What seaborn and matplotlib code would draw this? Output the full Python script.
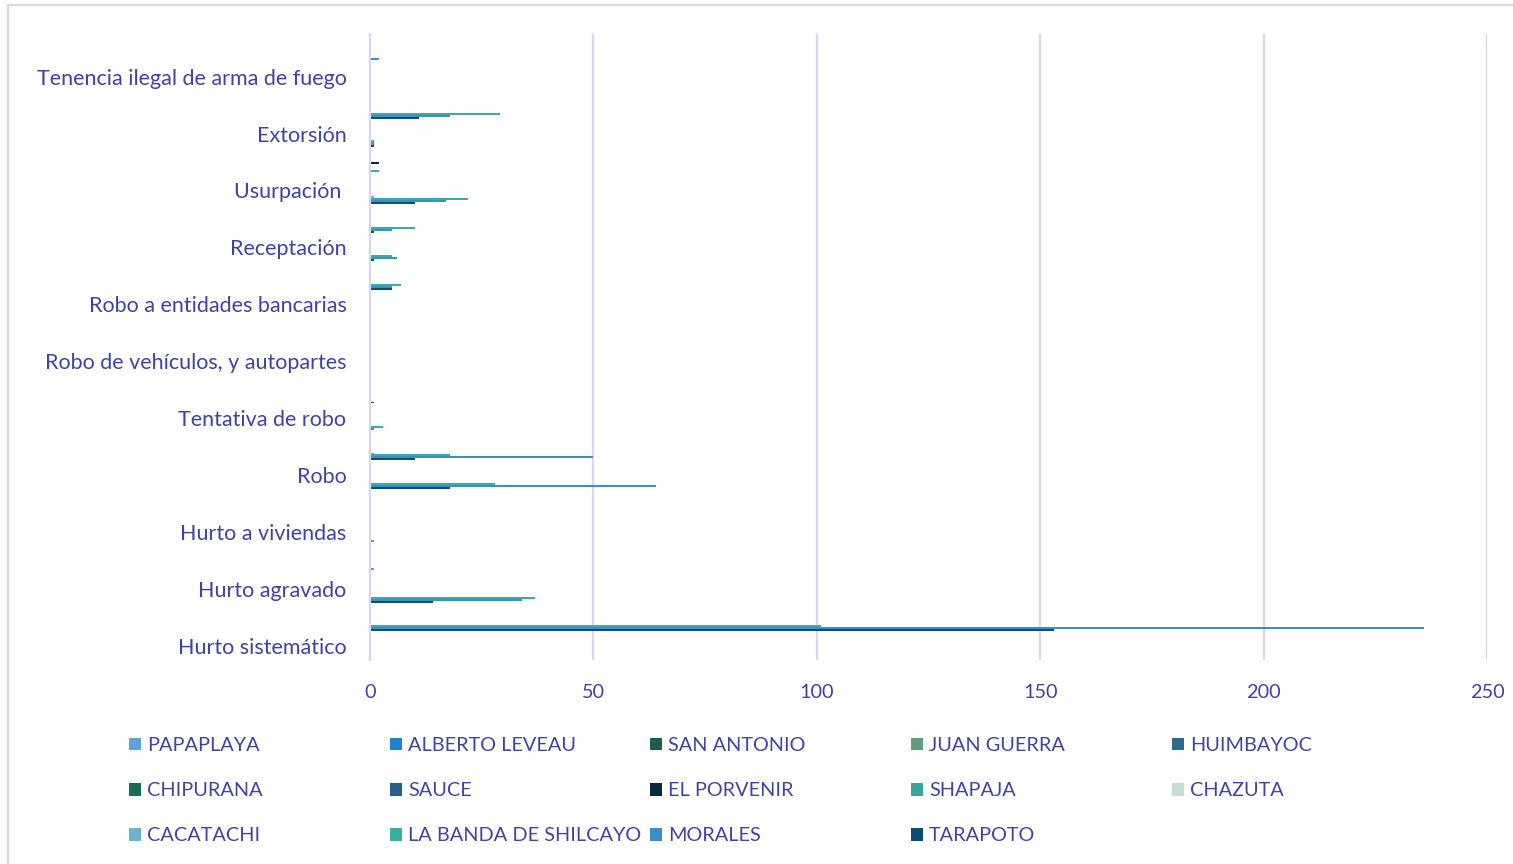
import matplotlib
matplotlib.use("Agg")
import matplotlib.pyplot as plt
import seaborn as sns
import pandas as pd
from matplotlib.patches import Patch
from matplotlib.lines import Line2D

# ---------------- data (top to bottom, 22 categories; Excel shows every other label) ----
categories = [
    "Categoría 22", "Tenencia ilegal de arma de fuego",
    "Categoría 20", "Extorsión",
    "Categoría 18", "Usurpación ",
    "Categoría 16", "Receptación",
    "Categoría 14", "Robo a entidades bancarias",
    "Categoría 12", "Robo de vehículos, y autopartes",
    "Categoría 10", "Tentativa de robo",
    "Categoría 8", "Robo",
    "Categoría 6", "Hurto a viviendas",
    "Categoría 4", "Hurto agravado",
    "Categoría 2", "Hurto sistemático",
]
shown_labels = categories[1::2]

series = ["PAPAPLAYA", "ALBERTO LEVEAU", "SAN ANTONIO", "JUAN GUERRA", "HUIMBAYOC",
          "CHIPURANA", "SAUCE", "EL PORVENIR", "SHAPAJA", "CHAZUTA",
          "CACATACHI", "LA BANDA DE SHILCAYO", "MORALES", "TARAPOTO"]

zeros = [0] * 22
papaplaya = list(zeros)
alberto_leveau = list(zeros)
san_antonio = list(zeros)
juan_guerra = list(zeros)
huimbayoc = list(zeros)
chipurana = list(zeros)
sauce = list(zeros)
el_porvenir = [0, 0, 0, 0, 2, 0, 0, 0, 0, 0, 0, 0, 0, 0, 0, 0, 0, 0, 0, 0, 0, 0]
shapaja = list(zeros)
chazuta = list(zeros)
cacatachi = [0, 0, 0, 1, 0, 1, 0, 0, 0, 0, 0, 0, 0, 0, 1, 0, 0, 0, 0, 0, 0, 0]
la_banda = [0, 0, 29, 1, 2, 22, 10, 5, 7, 0, 0, 0, 0, 3, 18, 28, 0, 1, 1, 37, 101, 0]
morales = [2, 0, 18, 1, 0, 17, 5, 6, 5, 0, 0, 0, 0, 1, 50, 64, 0, 0, 0, 34, 236, 0]
tarapoto = [0, 0, 11, 1, 0, 10, 1, 1, 5, 0, 0, 0, 1, 0, 10, 18, 0, 0, 0, 14, 153, 0]

values = [papaplaya, alberto_leveau, san_antonio, juan_guerra, huimbayoc,
          chipurana, sauce, el_porvenir, shapaja, chazuta,
          cacatachi, la_banda, morales, tarapoto]

x_ticks = [0, 50, 100, 150, 200, 250]

colors = ["#5BA3D9", "#1A86CC", "#1B5E4E", "#5E9E7E", "#2F6E88",
          "#1D6A56", "#2C5E8C", "#0C2A3E", "#36A89A", "#C4DFCF",
          "#6AB3CB", "#3AADA0", "#3A8ECF", "#0F4C73"]
palette = dict(zip(series, colors))

rows = []
for s, vals in zip(series, values):
    for c, v in zip(categories, vals):
        rows.append({"delito": c, "distrito": s, "valor": v})
df = pd.DataFrame(rows)

# ---------------- style ----------------
sns.set_theme(style="white")
plt.rcParams["font.family"] = ["Lato", "DejaVu Sans"]
TXT = "#4042A4"
GRID = "#D6D6F0"
FS = 14.3
FS_Y = 15.5

W, H = 1513, 864
fig = plt.figure(figsize=(W / 100, H / 100), dpi=100)
ax = fig.add_axes([370 / W, 1 - 660 / H, (1487 - 370) / W, (660 - 34) / H])

sns.barplot(data=df, x="valor", y="delito", hue="distrito", order=categories,
            hue_order=series, palette=palette, width=0.97, gap=0, orient="h",
            legend=False, errorbar=None, saturation=1, ax=ax, linewidth=0)

ax.set_xlim(0, 250)
ax.set_ylim(21.5, -0.5)
ax.set_xticks(x_ticks)
ax.set_xticklabels([str(t) for t in x_ticks], color=TXT, fontsize=FS)
ax.set_yticks(range(len(categories)))
ax.set_yticklabels([c if c in shown_labels else "" for c in categories],
                   color=TXT, fontsize=FS_Y)
ax.tick_params(axis="both", length=0)
ax.tick_params(axis="y", pad=17)
ax.tick_params(axis="x", pad=17.5)
ax.set_xlabel("")
ax.set_ylabel("")
ax.grid(False)
for t in x_ticks[1:]:
    ax.axvline(t, color=GRID, lw=1.6, zorder=0)
for side in ["top", "right", "bottom"]:
    ax.spines[side].set_visible(False)
ax.spines["left"].set_color(GRID)
ax.spines["left"].set_linewidth(1.6)

# chart-area border (top and left edges visible in the crop)
fig.add_artist(Line2D([8 / W, 1.0], [1 - 5 / H, 1 - 5 / H], color=GRID, lw=1.6))
fig.add_artist(Line2D([8 / W, 8 / W], [0.0, 1 - 5 / H], color=GRID, lw=1.6))

# ---------------- legend: Excel-like fixed columns, filled row-wise ----------------
col_x = [129, 390, 650, 911, 1172]
for ci, x in enumerate(col_x):
    idx = list(range(ci, len(series), 5))
    handles = [Patch(facecolor=colors[i], edgecolor="none") for i in idx]
    labels = [series[i] for i in idx]
    leg = fig.legend(handles, labels, loc="upper left",
                     bbox_to_anchor=(x / W, 1 - 737 / H), frameon=False,
                     fontsize=FS, handlelength=0.6, handleheight=0.6,
                     handletextpad=0.3, labelspacing=1.42, borderpad=0,
                     borderaxespad=0)
    for t in leg.get_texts():
        t.set_color(TXT)

fig.savefig("out.png", dpi=100, facecolor="white")
